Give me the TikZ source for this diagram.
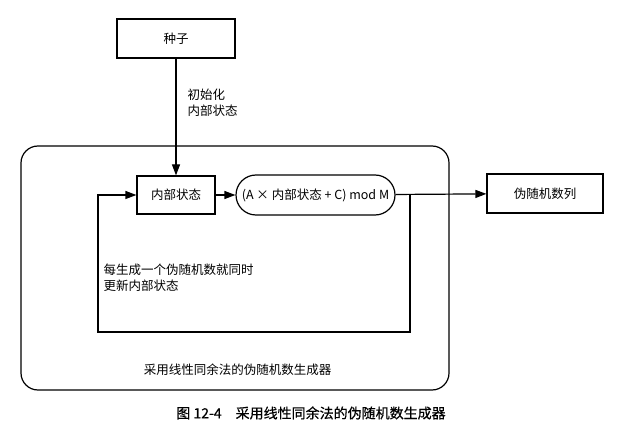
\documentclass[tikz,border=0pt]{standalone}
\usepackage{fontspec}
\setmainfont{Noto Sans CJK SC}
\newfontfamily\capfont[FakeBold=0.5]{Noto Sans CJK SC}
\usetikzlibrary{arrows.meta}

\begin{document}
\begin{tikzpicture}[x = 1pt, y = -1pt, font = \fontsize{12.5}{16}\selectfont, line width = 1.2pt,
  box/.style = {draw, minimum height = 39pt, inner sep = 0pt},
  > = {Triangle[length = 11pt, width = 8pt]}]
\useasboundingbox (0,0) rectangle (628,435);
\node [draw, rounded corners = 17pt, minimum width = 428pt, minimum height = 244pt] (lcg) at (235,268) {};
\node [box, minimum width = 118pt] (seed) at (176,38.5) {种子};
\node [box, minimum width = 78pt, minimum height = 38pt] (state) at (176,195) {内部状态};
\node [box, minimum width = 159pt, minimum height = 40pt, rounded corners = 20pt] (calc) at (315.5,195) {(A × 内部状态 + C) mod M};
\node [box, minimum width = 116pt] (out) at (545,193.5) {伪随机数列};
\draw [->] (seed) -- (state);
\node [align = left, anchor = west, inner sep = 0pt] (init) at (187,102.5) {初始化\\内部状态};
\draw [->] (state) -- (calc);
\draw [->] (calc) -- (out);
% feedback loop
\coordinate (turn) at (410,195);
\coordinate (back) at (98,332);
\draw [->] (turn) |- (back) |- (state);
\node [align = left, anchor = west, inner sep = 0pt] (upd) at (103,278) {每生成一个伪随机数就同时\\更新内部状态};
\node (name) at (237.5,370) {采用线性同余法的伪随机数生成器};
\node [font = \capfont\fontsize{14}{16}\selectfont] (cap) at (311,413) {图 12-4\hspace{14pt}采用线性同余法的伪随机数生成器};
\end{tikzpicture}
\end{document}
